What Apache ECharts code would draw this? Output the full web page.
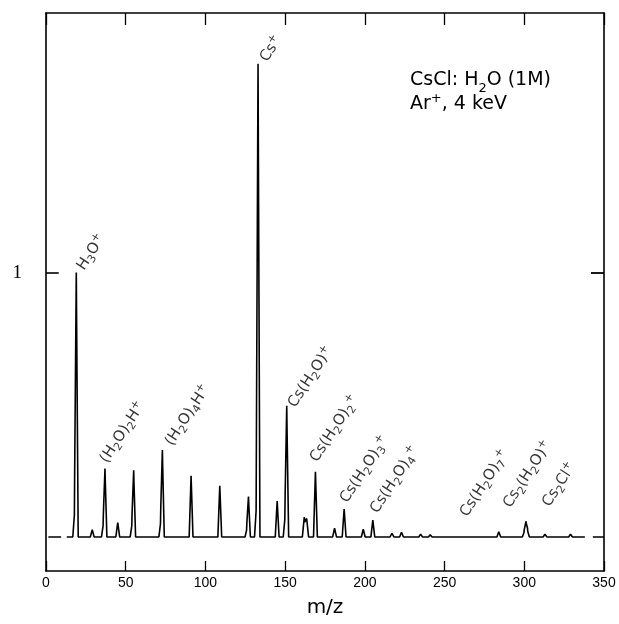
<!DOCTYPE html>
<html><head><meta charset="utf-8">
<script src="https://cdn.jsdelivr.net/npm/echarts@6/dist/echarts.min.js"></script>
<style>html,body{margin:0;padding:0;background:#fff}#c{width:619px;height:624px}</style>
</head><body><div id="c"></div>
<script>
// Peak list: m/z and relative intensity (baseline = 0, H3O+ ~ 1)
const peakMz     = [18,   19,    29,    36,   37,    45,    54,   55,    72,   73,    91,    109,   126,  127,   132,  133,   145,   150,  151,   162,   163.5, 169,   181,   187,   199,   205,   217,   223,   235,  241,   253,   259,   277,   284,  300,  301,   302,   313,  329];
const peakHeight = [0.10, 0.985, 0.027, 0.05, 0.251, 0.054, 0.05, 0.244, 0.06, 0.319, 0.232, 0.194, 0.03, 0.148, 0.12, 1.773, 0.136, 0.08, 0.484, 0.075, 0.07,  0.247, 0.033, 0.106, 0.029, 0.064, 0.014, 0.018, 0.01, 0.008, 0.005, 0.006, 0.005, 0.02, 0.02, 0.052, 0.025, 0.01, 0.01];
const baselineSegments = [[1.5, 9.5], [13, 338], [343, 350]];
const xTicks = [0, 50, 100, 150, 200, 250, 300, 350];
const yTicks = [1];
const labelText = [
  'H{s|3}O{p|+}',
  'Cs{p|+}',
  '(H{s|2}O){s|2}H{p|+}',
  '(H{s|2}O){s|4}H{p|+}',
  'Cs(H{s|2}O){p|+}',
  'Cs(H{s|2}O){s|2}{p|+}',
  'Cs(H{s|2}O){s|3}{p|+}',
  'Cs(H{s|2}O){s|4}{p|+}',
  'Cs(H{s|2}O){s|7}{p|+}',
  'Cs{s|2}(H{s|2}O){p|+}',
  'Cs{s|2}Cl{p|+}'
];
const labelMz = [19.4, 134.2, 33.9, 74.7, 151.8, 165.6, 184.4, 203.3, 259.7, 286.7, 311.2];
const labelY  = [1.01, 1.80, 0.28, 0.345, 0.49, 0.284, 0.129, 0.09, 0.076, 0.11, 0.114];

const W = 1.2; // peak half-width in m/z (shape)
function intensity(x) {
  let s = 0;
  for (let i = 0; i < peakMz.length; i++) {
    const d = Math.abs(x - peakMz[i]);
    if (d < W) s += peakHeight[i] * (1 - d / W);
  }
  return s;
}
const spectrum = [];
baselineSegments.forEach(function (seg, k) {
  const xs = [seg[0], seg[1]];
  peakMz.forEach(function (m) {
    [m - W, m, m + W].forEach(function (x) { if (x > seg[0] && x < seg[1]) xs.push(x); });
  });
  xs.sort(function (a, b) { return a - b; });
  xs.forEach(function (x) { spectrum.push([x, intensity(x)]); });
  if (k < baselineSegments.length - 1) spectrum.push([seg[1] + 0.1, null]);
});

const rich = {
  s: { fontSize: 11, lineHeight: 10, verticalAlign: 'bottom', fontFamily: 'DejaVu Sans', color: '#000' },
  p: { fontSize: 11, lineHeight: 10, verticalAlign: 'top', fontFamily: 'DejaVu Sans', color: '#000' }
};

const chart = echarts.init(document.getElementById('c'), null, { renderer: 'canvas' });
const axisLine = { show: true, onZero: false, lineStyle: { color: '#000', width: 1.6 } };
const yTickOnly = function (pos, showTick) {
  return { type: 'value', position: pos, min: -0.129, max: 1.985,
    axisLine: axisLine,
    axisTick: { show: showTick, inside: true, length: 13, customValues: yTicks, lineStyle: { color: '#000', width: 1.8 } },
    axisLabel: { show: false }, splitLine: { show: false } };
};
chart.setOption({
  animation: false,
  backgroundColor: '#fff',
  title: {
    text: 'CsCl: H{s|2}O (1M)\nAr{p|+}, 4 keV',
    left: 410, top: 68, padding: 0,
    textStyle: {
      fontSize: 19, fontWeight: 'normal', fontFamily: 'DejaVu Sans', color: '#000', lineHeight: 24,
      rich: {
        s: { fontSize: 13, lineHeight: 24, verticalAlign: 'bottom', fontFamily: 'DejaVu Sans', color: '#000', padding: [0, 0, -3, 0] },
        p: { fontSize: 13, lineHeight: 24, verticalAlign: 'top', fontFamily: 'DejaVu Sans', color: '#000' }
      }
    }
  },
  grid: { left: 46, right: 15, top: 13, bottom: 53 },
  xAxis: [
    { type: 'value', position: 'bottom', min: 0, max: 350, interval: 50,
      axisLine: axisLine,
      axisTick: { show: true, inside: true, length: 10, lineStyle: { color: '#000', width: 1.3 } },
      axisLabel: { color: '#000', fontSize: 14, fontFamily: 'Liberation Sans', margin: 5,
        customValues: xTicks },
      splitLine: { show: false },
      name: 'm/z', nameLocation: 'middle', nameGap: 27,
      nameTextStyle: { fontSize: 20, color: '#000', fontFamily: 'DejaVu Sans' } },
    { type: 'value', position: 'top', min: 0, max: 350, interval: 50,
      axisLine: axisLine,
      axisTick: { show: true, inside: true, length: 12, lineStyle: { color: '#000', width: 1.3 } },
      axisLabel: { show: false }, splitLine: { show: false } }
  ],
  yAxis: [
    yTickOnly('left', false),
    yTickOnly('right', true),
    { type: 'value', position: 'left', min: -0.129, max: 1.985,
      axisLine: { show: false, onZero: false }, axisTick: { show: false },
      axisLabel: { show: true, customValues: yTicks, color: '#000', fontSize: 19, fontFamily: 'Liberation Serif', margin: 24 },
      splitLine: { show: false } }
  ],
  series: [
    { type: 'line', xAxisIndex: 0, yAxisIndex: 0, data: spectrum, showSymbol: false, connectNulls: false,
      lineStyle: { color: '#000', width: 1.6 }, silent: true,
      markLine: {
        silent: true, symbol: 'none', animation: false, label: { show: false },
        lineStyle: { color: '#000', width: 1.6, type: 'solid' },
        data: yTicks.map(function (v) { return [{ coord: [0, v] }, { coord: [8, v] }]; })
      } },
    { type: 'scatter', xAxisIndex: 0, yAxisIndex: 0, symbolSize: 1, itemStyle: { color: 'rgba(0,0,0,0)' },
      data: labelMz.map(function (m, i) { return { value: [m, labelY[i]], label: { formatter: labelText[i] } }; }),
      label: { show: true, position: 'right', distance: 0, rotate: 57, align: 'left', verticalAlign: 'bottom',
        offset: [3, 12],
        fontSize: 15, lineHeight: 20, fontFamily: 'DejaVu Sans', color: '#000', rich: rich },
      silent: true }
  ]
});
</script></body></html>
